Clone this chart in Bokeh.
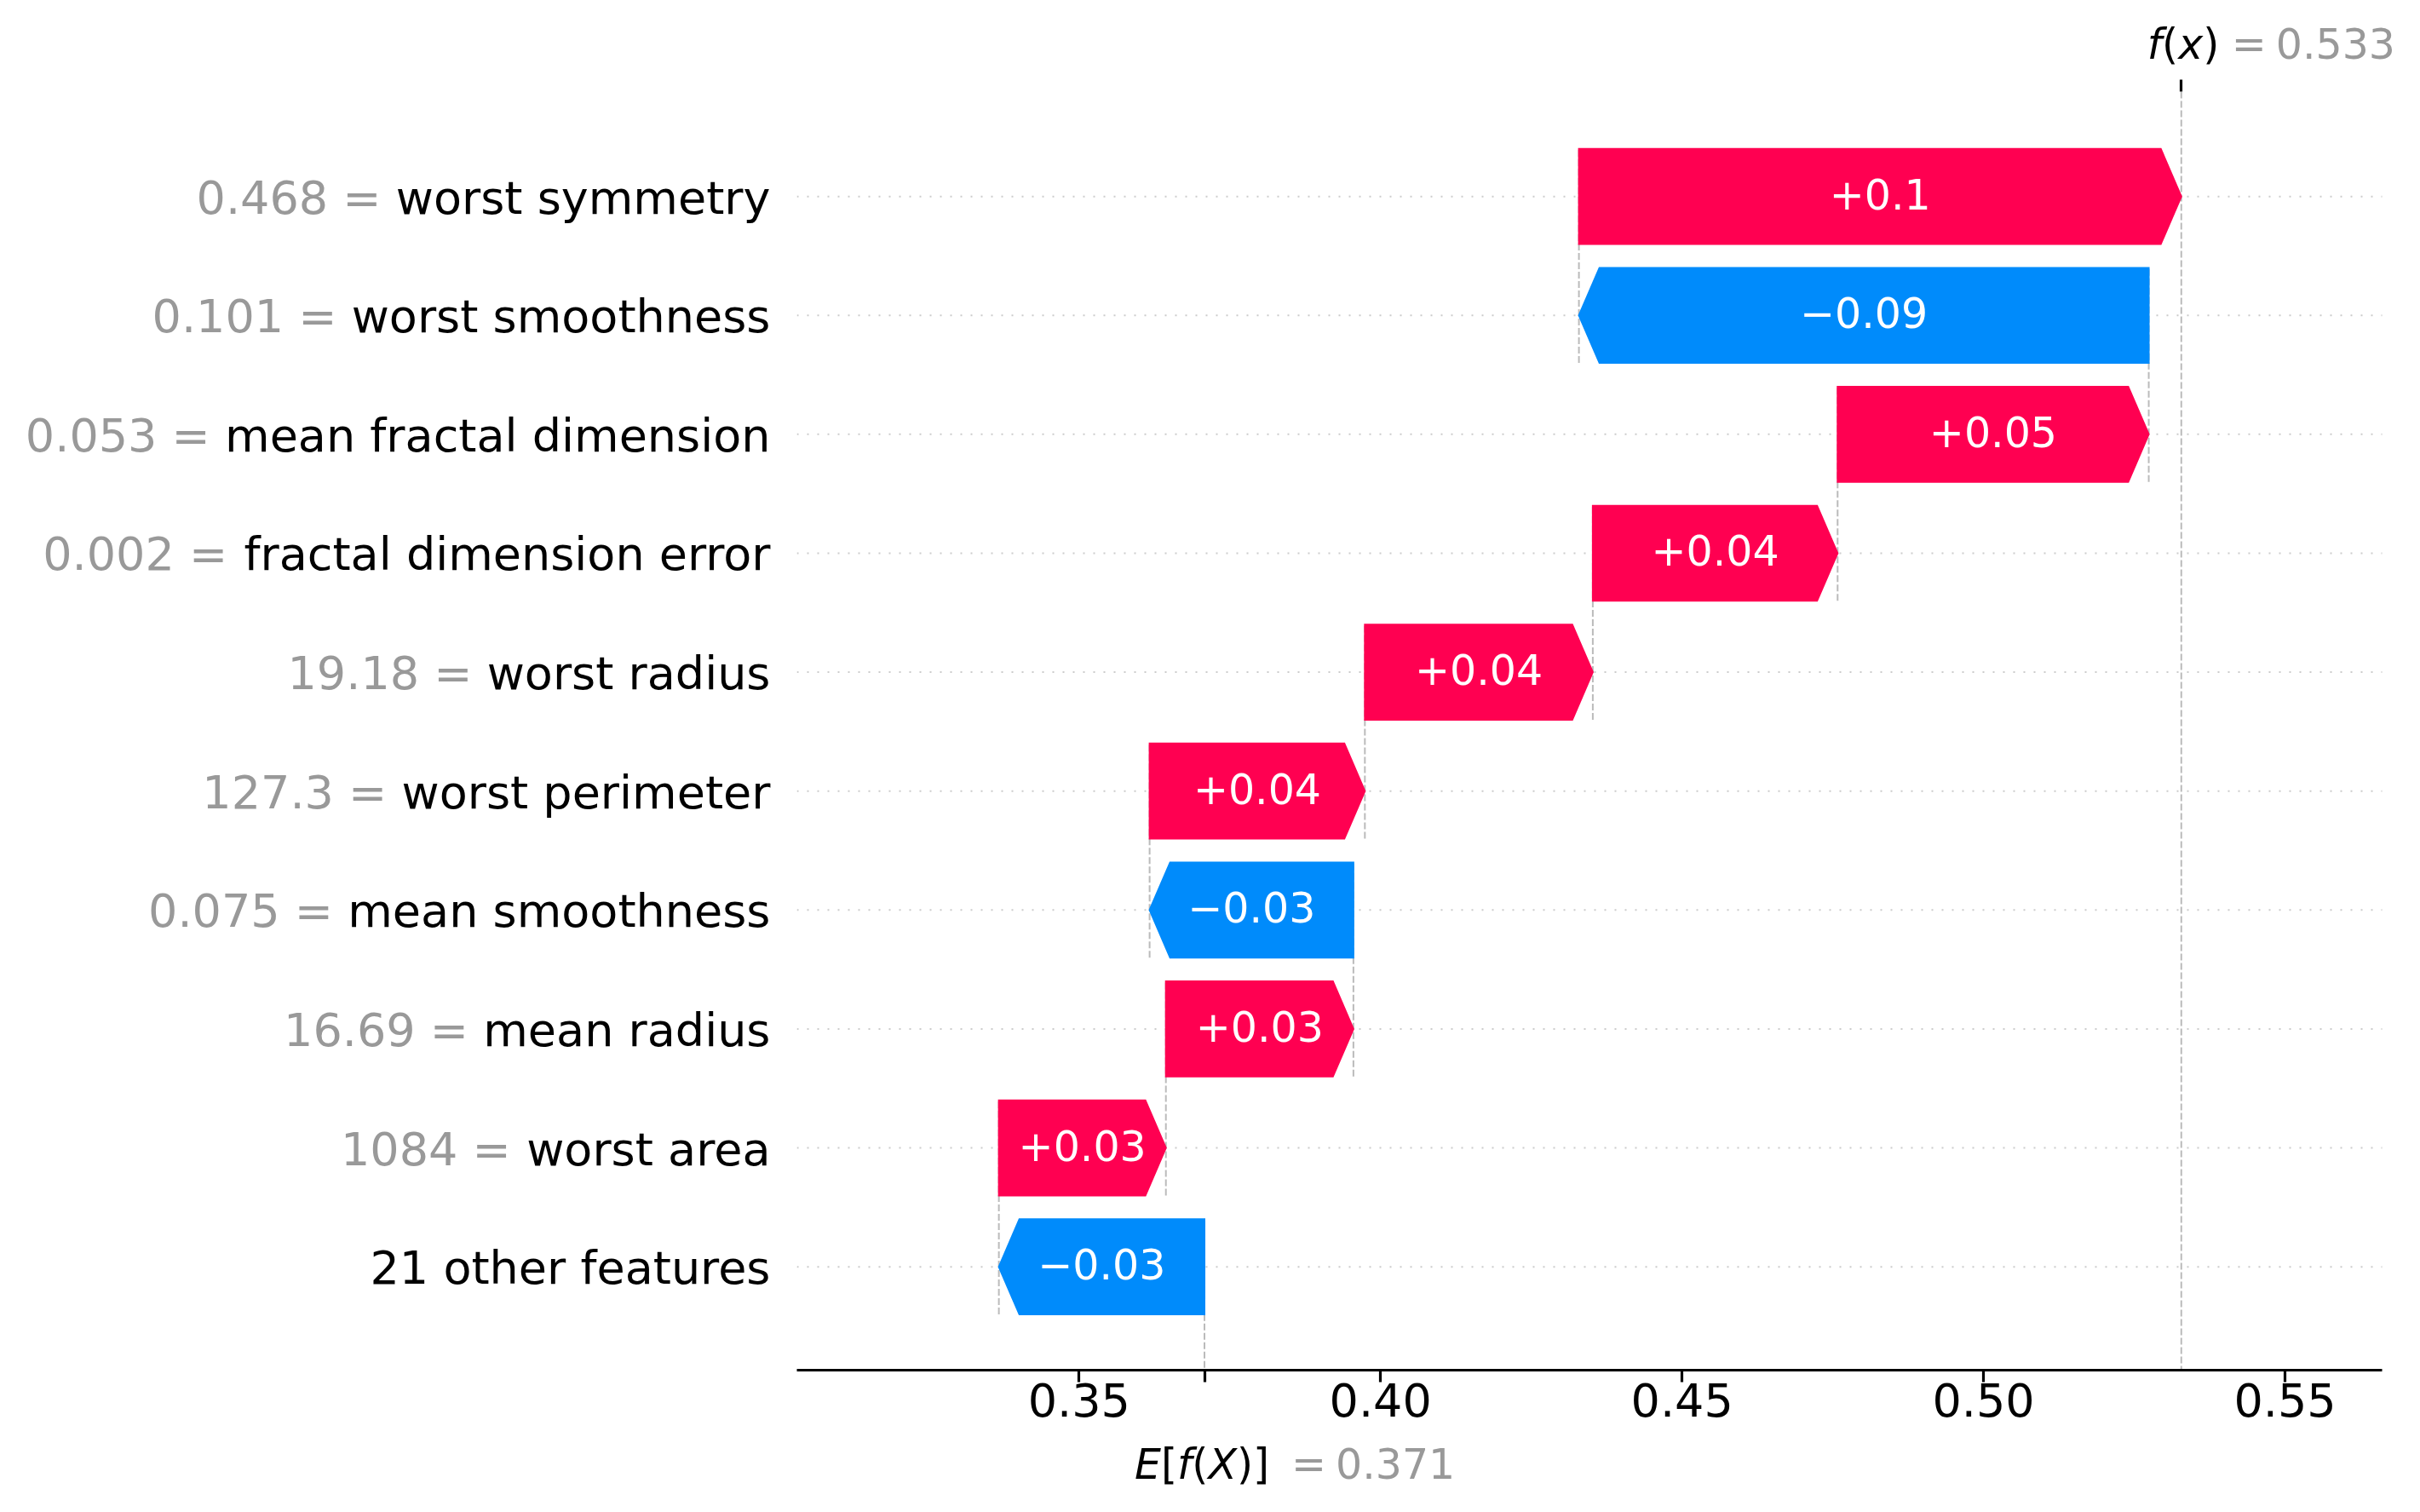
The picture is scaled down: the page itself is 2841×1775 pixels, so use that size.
from bokeh.plotting import figure
from bokeh.layouts import row, column
from bokeh.models import Range1d, LinearAxis, FixedTicker, ColumnDataSource, LabelSet, Span
from bokeh.core.properties import value
from bokeh.embed import file_html
from bokeh.resources import INLINE

# ---------------- data ----------------
features = ["worst symmetry", "worst smoothness", "mean fractal dimension",
            "fractal dimension error", "worst radius", "worst perimeter",
            "mean smoothness", "mean radius", "worst area", "21 other features"]
feature_values = ["0.468", "0.101", "0.053", "0.002", "19.18", "127.3",
                  "0.075", "16.69", "1084", ""]
shap_values = [0.0999, -0.0945, 0.0516, 0.0406, 0.0378, 0.0357,
               -0.0338, 0.0311, 0.0277, -0.0341]
base_value = 0.3708
xticks = [0.35, 0.40, 0.45, 0.50, 0.55]
x_limits = (0.3032, 0.5661)
y_limits = (-0.869, 9.882)

RED = "#ff0051"
BLUE = "#008bfb"
GREY = "#999999"
FONT = "DejaVu Sans"

# DejaVu Sans advance widths (units per em = 2048)
ADV = {" ": 651, ".": 651, "=": 1716, "+": 1716, "(": 799, ")": 799, "[": 799, "]": 799,
       "E": 1294, "X": 1401,
       "a": 1255, "b": 1300, "c": 1126, "d": 1300, "e": 1260, "f": 721, "g": 1300,
       "h": 1298, "i": 569, "j": 569, "k": 1186, "l": 569, "m": 1995, "n": 1298,
       "o": 1253, "p": 1300, "q": 1300, "r": 842, "s": 1067, "t": 803, "u": 1298,
       "v": 1212, "w": 1675, "x": 1212, "y": 1212, "z": 1075}
for d in "0123456789":
    ADV[d] = 1303


def tw(s, size):
    return sum(ADV.get(c, 1300) for c in s) / 2048.0 * size


def fmt(v):
    s = "%+0.02f" % v
    s = s.rstrip("0").rstrip(".")
    return s.replace("-", "\u2212")


n = len(features)
rows = [n - 1 - i for i in range(n)]
starts = [0.0] * n
ends = [0.0] * n
cum = base_value
for i in range(n - 1, -1, -1):
    starts[i] = cum
    cum += shap_values[i]
    ends[i] = cum
fx = cum

# ---------------- layout sizes (px) ----------------
LBL = 54   # 13pt
SML = 49   # 12pt
TOTAL_W, TOTAL_H = 2825, 1770
LEFT_W = 935          # label column
RIGHT_W = TOTAL_W - LEFT_W
FRAME_TOP, FRAME_BOTTOM = 107, 1608
AXIS_W = 1861         # drawn width of the x axis
TOP_H = 80
BOT_TOP = 1685        # where the E[f(X)] strip starts
BOT_H = TOTAL_H - BOT_TOP
MAIN_H = BOT_TOP - TOP_H
upp = (x_limits[1] - x_limits[0]) / AXIS_W      # data units per px
shared_x = Range1d(x_limits[0], x_limits[0] + RIGHT_W * upp)
shared_y = Range1d(*y_limits)


def bare(fig):
    fig.outline_line_color = None
    fig.background_fill_color = "white"
    fig.border_fill_color = "white"
    fig.xgrid.visible = False
    fig.ygrid.visible = False
    return fig


def add_texts(fig, xs_, ys_, texts, xo, yo, size, colors, styles, align):
    src = ColumnDataSource(dict(x=xs_, y=ys_, text=texts, xo=xo, yo=yo,
                                tcolor=colors, tstyle=styles))
    fig.add_layout(LabelSet(x="x", y="y", text="text", x_offset="xo", y_offset="yo",
                            source=src, text_align=align, text_baseline="alphabetic",
                            text_font=value(FONT), text_font_size=f"{size}px",
                            text_color="tcolor", text_font_style="tstyle"))


# ---------------- main plot ----------------
p = bare(figure(width=RIGHT_W, height=MAIN_H, output_backend="svg", toolbar_location=None,
                x_range=shared_x, y_range=shared_y, y_axis_location=None,
                min_border_left=0, min_border_right=0,
                min_border_top=FRAME_TOP - TOP_H,
                min_border_bottom=BOT_TOP - FRAME_BOTTOM))

# row guide lines
p.segment(x0=[x_limits[0]] * n, y0=rows, x1=[x_limits[1]] * n, y1=rows,
          line_color="#cccccc", line_width=2, line_dash="2 10")
# f(x) line
p.add_layout(Span(location=fx, dimension="height", line_color="#bbbbbb",
                  line_width=2, line_dash="8 3", level="underlay"))
# connectors
p.segment(x0=starts, y0=[r - 1.4 for r in rows], x1=starts, y1=[r + 0.4 for r in rows],
          line_color="#bbbbbb", line_width=2, line_dash="8 3")

# arrows
h = 0.8
head = 0.0034
xs, ys, cols = [], [], []
for i in range(n):
    s, e, r = starts[i], ends[i], rows[i]
    hd = head if e > s else -head
    xs.append([s, e - hd, e, e - hd, s])
    ys.append([r - h / 2, r - h / 2, r, r + h / 2, r + h / 2])
    cols.append(RED if shap_values[i] >= 0 else BLUE)
p.patches(xs=xs, ys=ys, fill_color=cols, line_color=cols, line_width=2, line_join="miter")

# bar value labels
add_texts(p, [(s + e) / 2 for s, e in zip(starts, ends)], rows, [fmt(v) for v in shap_values],
          [0] * n, [-15] * n, SML, ["white"] * n, ["normal"] * n, "center")

# bottom axis
ax = p.xaxis[0]
ax.bounds = x_limits
ax.ticker = FixedTicker(ticks=xticks + [base_value])
overrides = {t: "%0.2f" % t for t in xticks}
overrides[base_value] = ""
ax.major_label_overrides = overrides
ax.axis_line_color = "black"
ax.axis_line_width = 3.2
ax.major_tick_line_color = "black"
ax.major_tick_line_width = 3.2
ax.major_tick_out = 14
ax.major_tick_in = 0
ax.minor_tick_out = 0
ax.minor_tick_in = 0
ax.major_label_standoff = 1
ax.major_label_text_font = FONT
ax.major_label_text_font_size = f"{LBL}px"
ax.major_label_text_color = "black"

# top axis: a single tick at f(x)
top_ax = LinearAxis(ticker=FixedTicker(ticks=[fx]), major_label_overrides={fx: ""})
top_ax.axis_line_color = None
top_ax.major_tick_line_color = "black"
top_ax.major_tick_line_width = 3.2
top_ax.major_tick_out = 14
top_ax.major_tick_in = 0
top_ax.minor_tick_out = 0
top_ax.minor_tick_in = 0
top_ax.major_label_text_font_size = "0px"
top_ax.major_label_standoff = 0
p.add_layout(top_ax, "above")

# ---------------- left label column ----------------
L = bare(figure(width=LEFT_W, height=TOTAL_H, output_backend="svg", toolbar_location=None,
                x_range=Range1d(0, LEFT_W), y_range=shared_y,
                x_axis_location=None, y_axis_location=None,
                min_border_left=0, min_border_right=0,
                min_border_top=FRAME_TOP, min_border_bottom=TOTAL_H - FRAME_BOTTOM))
PAD = 31
name_right = LEFT_W - PAD
add_texts(L, [name_right] * n, rows, features, [0] * n, [-20] * n, LBL,
          ["black"] * n, ["normal"] * n, "right")
idx = [i for i in range(n) if feature_values[i]]
add_texts(L, [name_right - tw(features[i], LBL) - tw(" ", LBL) for i in idx],
          [rows[i] for i in idx], [feature_values[i] + " =" for i in idx],
          [0] * len(idx), [-20] * len(idx), LBL, [GREY] * len(idx),
          ["normal"] * len(idx), "right")


# ---------------- f(x) strip (top) and E[f(X)] strip (bottom) ----------------
def math_label(fig, x, y, parts, x0, rest):
    texts, offs, colors, styles = [], [], [], []
    off = x0
    for t, st in parts:
        texts.append(t); offs.append(off); colors.append("black"); styles.append(st)
        off += tw(t, SML)
    for t, o in rest:
        texts.append(t); offs.append(o); colors.append(GREY); styles.append("normal")
    k = len(texts)
    add_texts(fig, [x] * k, [y] * k, texts, offs, [0] * k, SML, colors, styles, "left")


T = bare(figure(width=RIGHT_W, height=TOP_H, output_backend="svg", toolbar_location=None,
                x_range=shared_x, y_range=Range1d(0, TOP_H),
                x_axis_location=None, y_axis_location=None, min_border=0,
                min_border_left=0, min_border_right=0, min_border_top=0, min_border_bottom=0))
math_label(T, fx, TOP_H - 68,
           [("f", "italic"), ("(", "normal"), ("x", "italic"), (")", "normal")], -40,
           [("=", 59), ("%0.03f" % fx, 111)])

B = bare(figure(width=RIGHT_W, height=BOT_H, output_backend="svg", toolbar_location=None,
                x_range=shared_x, y_range=Range1d(0, BOT_H),
                x_axis_location=None, y_axis_location=None, min_border=0,
                min_border_left=0, min_border_right=0, min_border_top=0, min_border_bottom=0))
math_label(B, base_value, TOTAL_H - 1735,
           [("E", "italic"), ("[", "normal"), ("f", "italic"), ("(", "normal"),
            ("X", "italic"), (")", "normal"), ("]", "normal")], -82,
           [("=", 102), ("%0.03f" % base_value, 154)])

layout = row(L, column(T, p, B, spacing=0), spacing=0)
open("out.html", "w").write(file_html(layout, INLINE))
